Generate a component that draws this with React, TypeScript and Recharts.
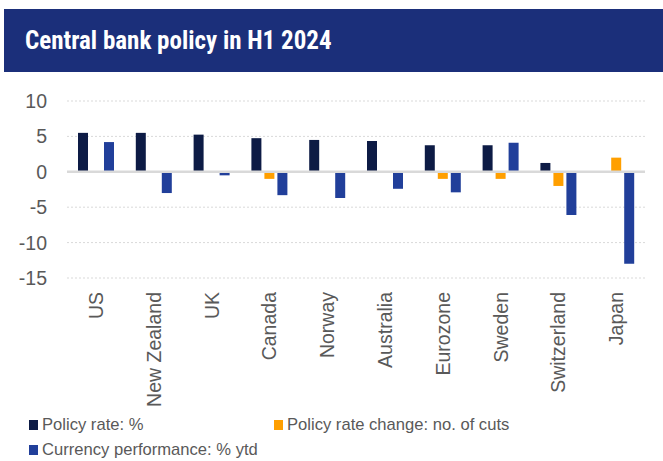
import React from "react";
import { BarChart, Bar, XAxis, YAxis, CartesianGrid, ReferenceLine } from "recharts";

const title = "Central bank policy in H1 2024";
const categories = ["US", "New Zealand", "UK", "Canada", "Norway", "Australia", "Eurozone", "Sweden", "Switzerland", "Japan"];
const policyRate = [5.5, 5.5, 5.25, 4.75, 4.5, 4.35, 3.75, 3.75, 1.25, 0.1];
const rateChange = [0, 0, 0, -1, 0, 0, -1, -1, -2, 2];
const currencyPerf = [4.2, -3.0, -0.5, -3.3, -3.7, -2.4, -2.9, 4.1, -6.1, -13.0];
const yTicks = [-15, -10, -5, 0, 5, 10];
const seriesNames = ["Policy rate: %", "Policy rate change: no. of cuts", "Currency performance: % ytd"];
const seriesColors = ["#0d1b45", "#ff9f00", "#213f9a"];

const data = categories.map((c, i) => ({
  name: c,
  policy: policyRate[i],
  change: rateChange[i] === 0 ? null : rateChange[i],
  currency: currencyPerf[i],
}));

const FONT = "'Liberation Sans', Arial, sans-serif";

const XTick = (props: any) => {
  const { x, y, payload } = props;
  return (
    <text
      x={x}
      y={y}
      transform={`rotate(-90 ${x} ${y})`}
      textAnchor="end"
      dy="0.36em"
      fill="#595959"
      fontSize={19.5}
      fontFamily={FONT}
    >
      {payload.value}
    </text>
  );
};

const legendPos = [
  { left: 29, top: 418 },
  { left: 274, top: 418 },
  { left: 29, top: 443 },
];

export default function App() {
  return (
    <div style={{ position: "fixed", left: 0, top: 0, width: 663, height: 461, background: "#fff", overflow: "hidden" }}>
      <div
        style={{
          position: "absolute",
          left: 4,
          top: 9,
          width: 659,
          height: 63,
          background: "#1b2f7a",
        }}
      />
      <div
        style={{
          position: "absolute",
          left: 25,
          top: 9,
          height: 63,
          lineHeight: "63px",
          color: "#fff",
          fontFamily: "'Liberation Sans Narrow', 'Roboto Condensed', Arial, sans-serif",
          fontWeight: 700,
          fontSize: 25,
          whiteSpace: "nowrap",
        }}
      >
        {title}
      </div>
      <div style={{ position: "absolute", left: 0, top: 0 }}>
        <BarChart
          width={663}
          height={461}
          data={data}
          margin={{ top: 101, right: 18, left: 0, bottom: 63 }}
          barSize={10}
          barGap={3}
        >
          <CartesianGrid vertical={false} stroke="#d9d9d9" strokeDasharray="2 2" />
          <XAxis
            dataKey="name"
            height={120}
            axisLine={false}
            tickLine={false}
            interval={0}
            tick={<XTick />}
            tickMargin={8}
          />
          <YAxis
            width={67}
            domain={[-15, 10]}
            ticks={yTicks}
            axisLine={false}
            tickLine={false}
            tickMargin={14}
            tick={{ fill: "#595959", fontSize: 19.5, fontFamily: FONT }}
          />
          <ReferenceLine y={0} stroke="#d9d9d9" strokeWidth={2.5} />
          <Bar dataKey="policy" fill={seriesColors[0]} isAnimationActive={false} />
          <Bar dataKey="change" fill={seriesColors[1]} isAnimationActive={false} />
          <Bar dataKey="currency" fill={seriesColors[2]} isAnimationActive={false} />
        </BarChart>
      </div>
      {seriesNames.map((n, i) => (
        <div
          key={n}
          style={{
            position: "absolute",
            left: legendPos[i].left,
            top: legendPos[i].top,
            display: "flex",
            alignItems: "center",
            fontFamily: FONT,
            fontSize: 16.6,
            color: "#595959",
            whiteSpace: "nowrap",
            lineHeight: "14px",
          }}
        >
          <span style={{ display: "inline-block", width: 9, height: 10, background: seriesColors[i], marginRight: 4 }} />
          {n}
        </div>
      ))}
    </div>
  );
}
